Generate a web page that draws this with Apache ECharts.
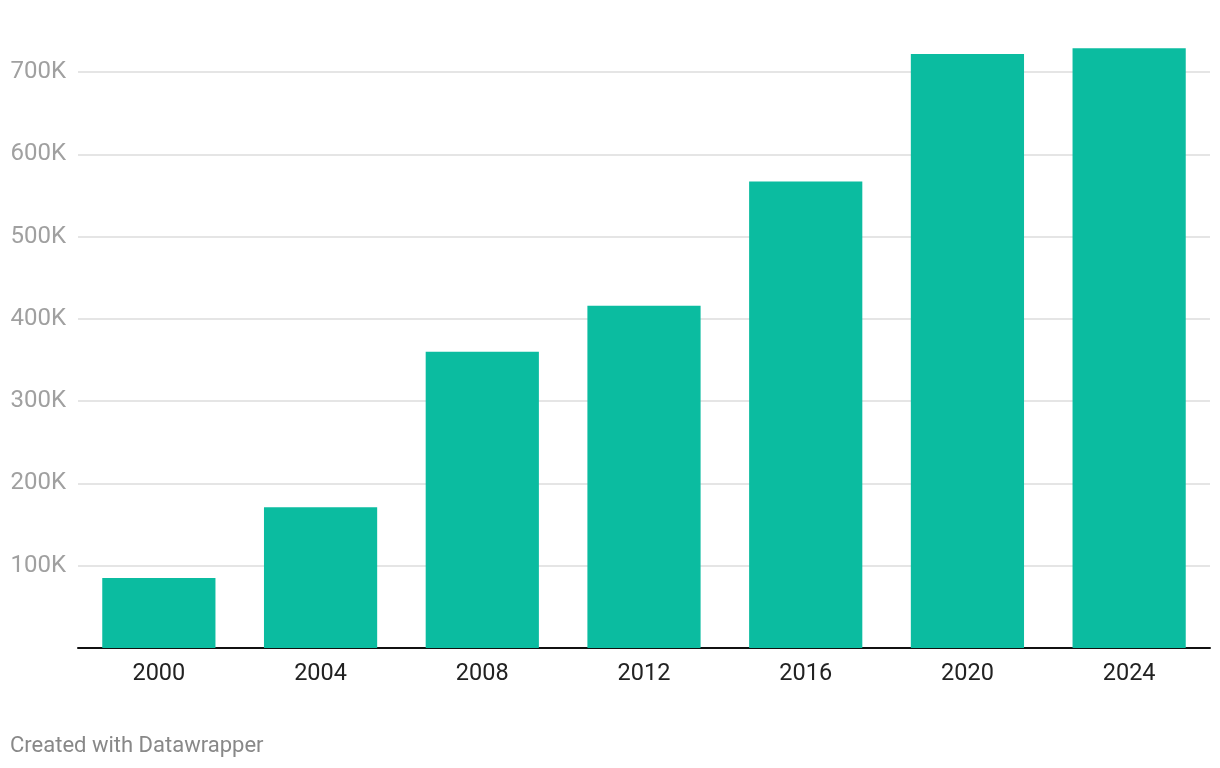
<!DOCTYPE html>
<html>
<head>
<meta charset="utf-8">
<script src="https://cdn.jsdelivr.net/npm/echarts@6/dist/echarts.min.js"></script>
<style>
html,body{margin:0;padding:0;background:#fff;}
#c{width:1220px;height:768px;}
</style>
</head>
<body>
<div id="c"></div>
<script>
const categories = ['2000','2004','2008','2012','2016','2020','2024'];
const values = [85000, 171000, 360000, 416000, 567000, 722000, 729000];
const yTicks = [0, 100000, 200000, 300000, 400000, 500000, 600000, 700000];

const chart = echarts.init(document.getElementById('c'), null, {renderer:'canvas'});
chart.setOption({
  animation: false,
  backgroundColor: '#ffffff',
  grid: {left: 78, right: 10, top: 72, bottom: 120, containLabel: false},
  graphic: [{
    type: 'text', left: 10, top: 735,
    style: {text: 'Created with Datawrapper', fill: '#888888', font: '22px Roboto'}
  }],
  xAxis: {
    type: 'category',
    data: categories,
    axisLine: {show: true, lineStyle: {color: '#111111', width: 2}},
    axisTick: {show: false},
    axisLabel: {color: '#222222', fontFamily: 'Roboto', fontSize: 23.5, margin: 14}
  },
  yAxis: {
    type: 'value',
    min: 0, max: yTicks[yTicks.length-1], interval: 100000,
    axisLine: {show: false},
    axisTick: {show: false},
    splitLine: {lineStyle: {color: '#e5e5e5', width: 2}},
    axisLabel: {
      color: '#a0a0a0', fontFamily: 'Roboto', fontSize: 24, margin: 12,
      padding: [4, 0, 0, 0],
      formatter: v => v === 0 ? '' : (v/1000) + 'K'
    }
  },
  series: [{
    type: 'bar',
    data: values,
    clip: false,
    barCategoryGap: '30%',
    itemStyle: {color: '#0bbca0'}
  }]
});
</script>
</body>
</html>
